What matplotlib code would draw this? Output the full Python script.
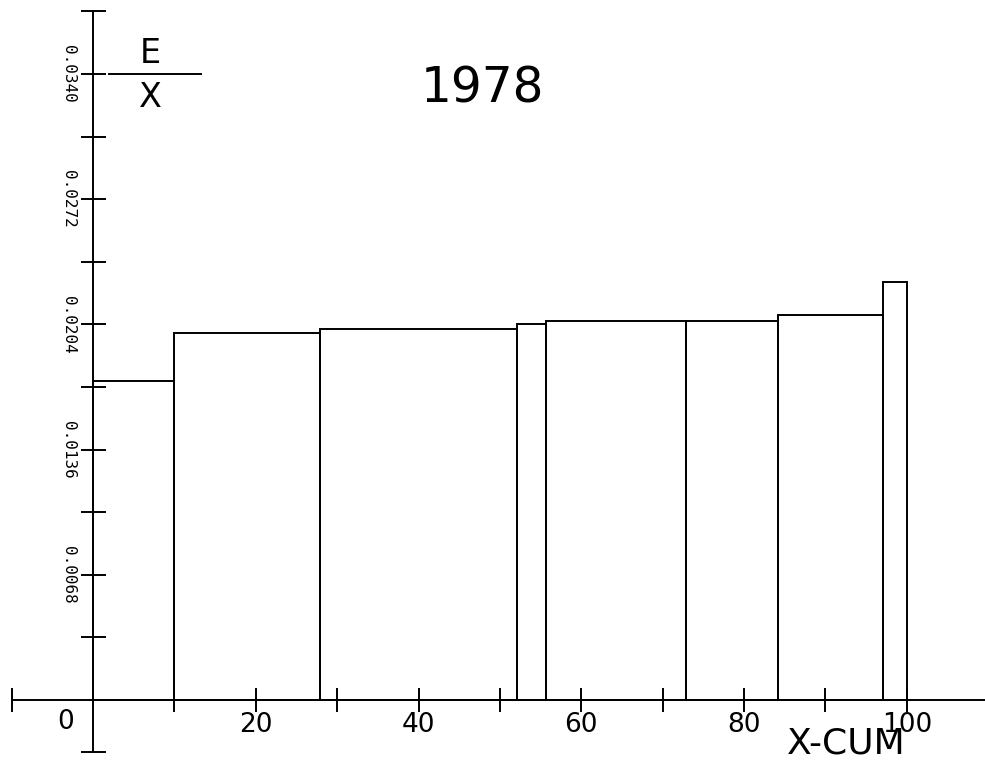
import matplotlib
matplotlib.use("Agg")
import matplotlib.pyplot as plt
import numpy as np

# step edges along cumulative x (percent) and E/X level of each step
edges = [0, 10.0, 27.9, 52.1, 55.7, 72.8, 84.2, 97.1, 100.0]
ex_values = [0.01733, 0.01995, 0.02017, 0.02041, 0.02057, 0.02060, 0.02091, 0.0227]

ytick_step = 0.0034
ylabel_vals = [0.0068, 0.0136, 0.0204, 0.0272, 0.0340]
ylabel_text = ["0.0068", "0.0136", "0.0204", "0.0272", "0.0340"]
xlabel_vals = [20, 40, 60, 80, 100]
year = "1978"

fig = plt.figure(figsize=(9.85, 7.65), dpi=100)
ax = fig.add_axes([0, 0, 1, 1])
ax.set_xlim(-11.43, 109.6)
ax.set_ylim(-0.00353, 0.03802)

lw = 1.4
widths = np.diff(edges)
ax.bar(edges[:-1], ex_values, width=widths, align="edge",
       facecolor="none", edgecolor="black", linewidth=lw)

# axes drawn through the origin like the plotter output
for side in ["top", "right"]:
    ax.spines[side].set_visible(False)
ax.spines["left"].set_position(("data", 0))
ax.spines["bottom"].set_position(("data", 0))
ax.spines["left"].set_bounds(-0.0028, 11 * ytick_step)
ax.spines["bottom"].set_bounds(-10, 112)
ax.spines["left"].set_linewidth(lw)
ax.spines["bottom"].set_linewidth(lw)

yt = [-0.0028] + list(np.arange(1, 12) * ytick_step)
ax.set_yticks(yt)
ax.set_yticklabels([""] + [ylabel_text[ylabel_vals.index(round(v, 4))] if round(v, 4) in ylabel_vals else ""
                           for v in yt[1:]])
ax.tick_params(axis="y", direction="inout", length=18, width=lw, pad=3)
for lab in ax.get_yticklabels():
    lab.set_rotation(270)
    lab.set_fontfamily("DejaVu Sans Mono")
    lab.set_fontsize(11.5)
    lab.set_va("center")
    lab.set_ha("right")

xt = [-10] + list(range(10, 101, 10))
ax.set_xticks(xt)
ax.set_xticklabels(["" if v not in xlabel_vals else str(v) for v in xt])
ax.tick_params(axis="x", direction="inout", length=17, width=lw, pad=0, labelsize=19)
ax.text(-3.4, -0.00120, "0", fontsize=19, ha="center", va="center")

# E / X label
ax.text(7.0, 0.03509, "E", fontsize=24, ha="center", va="center")
ax.plot([2.0, 13.3], [0.0340, 0.0340], color="black", linewidth=lw)
ax.text(7.0, 0.03275, "X", fontsize=24, ha="center", va="center")

ax.text(47.9, 0.0332, year, fontsize=35, ha="center", va="center")
ax.text(92.6, -0.00234, "X-CUM", fontsize=26, ha="center", va="center")

fig.savefig("out.png", dpi=100)
